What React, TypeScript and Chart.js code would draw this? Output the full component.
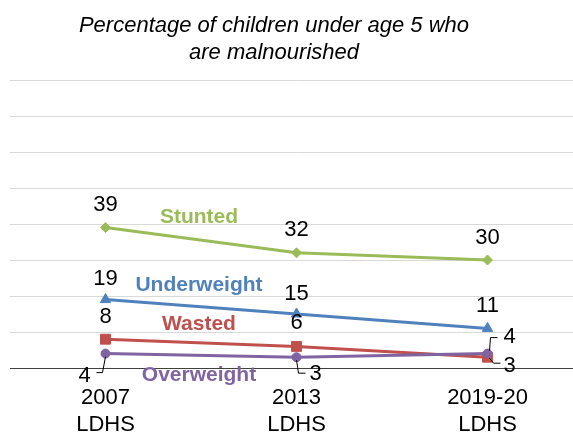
import React, { useEffect, useRef } from "react";
import { Chart, registerables } from "chart.js";

Chart.register(...registerables);

const titleLines = ["Percentage of children under age 5 who", "are malnourished"];
const categories = [["2007", "LDHS"], ["2013", "LDHS"], ["2019-20", "LDHS"]];
const stunted = [39, 32, 30];
const underweight = [19, 15, 11];
const wasted = [8, 6, 3];
const overweight = [4, 3, 4];
const seriesNames = ["Stunted", "Underweight", "Wasted", "Overweight"];
const yMin = 0;
const yMax = 80;
const yStep = 10;

const FONT = "'Liberation Sans', Arial, sans-serif";
const COLORS = ["#9BBB59", "#4F81BD", "#C0504D", "#8064A2"];

// label placement per series: offsets (dx, dy) from point, plus optional leader
type Place = { dx: number; dy: number; leader?: number[][] };
const placements: Place[][] = [
  [{ dx: 0, dy: -23 }, { dx: 0, dy: -23 }, { dx: 0, dy: -22 }],
  [{ dx: 0, dy: -21 }, { dx: 0, dy: -20 }, { dx: 0, dy: -22 }],
  [{ dx: 0, dy: -22 }, { dx: 0, dy: -23 }, { dx: 22, dy: 9, leader: [[2, 1], [6, 6], [13, 6]] }],
  [
    { dx: -21, dy: 22, leader: [[0, 3], [-3, 19], [-9, 19]] },
    { dx: 19, dy: 17, leader: [[0, 3], [2, 16], [9, 16]] },
    { dx: 22, dy: -17, leader: [[2, -3], [3, -16], [10, -16]] },
  ],
];
const nameOffsets = [-23, -22, -19, 20];

const labelPlugin = {
  id: "customLabels",
  afterDatasetsDraw(chart: any) {
    const ctx = chart.ctx;
    ctx.save();
    // title
    ctx.fillStyle = "#000";
    ctx.font = `italic 22px ${FONT}`;
    ctx.textAlign = "center";
    ctx.textBaseline = "alphabetic";
    titleLines.forEach((t, i) => ctx.fillText(t, 274, 32 + i * 26.5));

    chart.data.datasets.forEach((ds: any, di: number) => {
      const meta = chart.getDatasetMeta(di);
      const pts = meta.data;
      // values
      ctx.font = `22px ${FONT}`;
      ctx.textAlign = "center";
      ctx.textBaseline = "middle";
      pts.forEach((p: any, i: number) => {
        const pl = placements[di][i];
        if (pl.leader) {
          ctx.strokeStyle = "#000";
          ctx.lineWidth = 1;
          ctx.beginPath();
          pl.leader.forEach(([lx, ly], k) => {
            if (k === 0) ctx.moveTo(p.x + lx, p.y + ly);
            else ctx.lineTo(p.x + lx, p.y + ly);
          });
          ctx.stroke();
        }
        ctx.fillStyle = "#000";
        ctx.fillText(String(ds.data[i]), p.x + pl.dx, p.y + pl.dy);
      });
      // series name
      const nx = (pts[0].x + pts[1].x) / 2 - 2;
      const ny = (pts[0].y + pts[1].y) / 2 + nameOffsets[di];
      ctx.font = `bold 21px ${FONT}`;
      ctx.fillStyle = COLORS[di];
      ctx.fillText(ds.label, nx, ny);
    });
    ctx.restore();
  },
};

export default function App() {
  const ref = useRef<HTMLCanvasElement | null>(null);
  useEffect(() => {
    if (!ref.current) return;
    const series = [stunted, underweight, wasted, overweight];
    const styles = ["rectRot", "triangle", "rect", "circle"];
    const radii = [5, 6, 7, 4.5];
    const chart = new Chart(ref.current, {
      type: "line",
      data: {
        labels: categories,
        datasets: series.map((d, i) => ({
          label: seriesNames[i],
          data: d,
          borderColor: COLORS[i],
          backgroundColor: COLORS[i],
          borderWidth: 3,
          pointStyle: styles[i],
          pointRadius: radii[i],
          pointBorderWidth: 1,
          pointBorderColor: COLORS[i],
          pointBackgroundColor: COLORS[i],
          tension: 0,
          clip: false,
          order: 4 - i,
        })),
      },
      options: {
        responsive: false,
        animation: false,
        devicePixelRatio: 1,
        layout: { autoPadding: false, padding: { left: 10, right: 0, top: 80, bottom: 0 } },
        plugins: { legend: { display: false }, title: { display: false }, tooltip: { enabled: false } },
        scales: {
          x: {
            offset: true,
            grid: { display: false, drawTicks: false },
            border: { display: true, color: "#404040", width: 1 },
            ticks: { color: "#000", font: { family: FONT, size: 22, lineHeight: 1.22 }, padding: 17, maxRotation: 0 },
            afterFit: (s: any) => {
              s.height = 66;
              s.paddingLeft = 0;
              s.paddingRight = 0;
            },
          },
          y: {
            min: yMin,
            max: yMax,
            ticks: { display: false, stepSize: yStep },
            grid: {
              drawTicks: false,
              color: (c: any) => (c.tick && c.tick.value === 0 ? "rgba(0,0,0,0)" : "#d9d9d9"),
              lineWidth: 1,
            },
            border: { display: false },
            afterFit: (s: any) => {
              s.width = 0;
              s.paddingTop = 0;
              s.paddingBottom = 0;
            },
          },
        },
      },
      plugins: [labelPlugin],
    });
    return () => chart.destroy();
  }, []);
  return (
    <div style={{ position: "fixed", left: 0, top: 0, width: 573, height: 434, overflow: "hidden", background: "#fff" }}>
      <canvas ref={ref} width={583} height={434} style={{ width: 583, height: 434, display: "block" }} />
    </div>
  );
}
